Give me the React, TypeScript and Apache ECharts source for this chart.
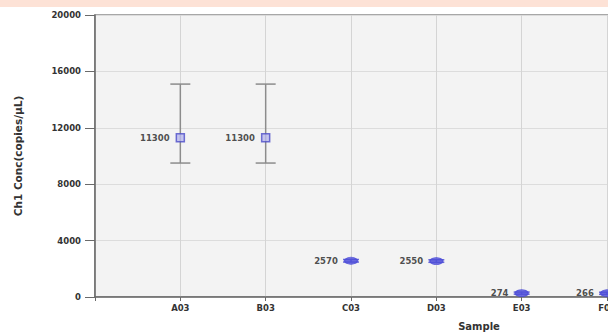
import React, { useEffect, useRef } from "react";
import * as echarts from "echarts";

const samples = ["A03", "B03", "C03", "D03", "E03", "F03"];
const conc = [11300, 11300, 2570, 2550, 274, 266];
const errLow = [9500, 9500, 2480, 2460, 200, 190];
const errHigh = [15100, 15100, 2660, 2640, 350, 340];
const yMin = 0;
const yMax = 20000;
const yStep = 4000;
const xMax = 9;

export default function App() {
  const ref = useRef<HTMLDivElement>(null);
  useEffect(() => {
    if (!ref.current) return;
    const chart = echarts.init(ref.current, null, { renderer: "svg" });
    const font = "DejaVu Sans, Verdana, sans-serif";
    chart.setOption({
      animation: false,
      graphic: [
        {
          type: "rect",
          left: 0,
          top: 0,
          shape: { width: 900, height: 7 },
          style: { fill: "#fde2d6" },
          silent: true,
        },
      ],
      grid: {
        left: 95,
        top: 15,
        bottom: 36,
        right: 20,
        outerBoundsMode: "none",
        containLabel: false,
        show: true,
        backgroundColor: "#f3f3f3",
        borderColor: "#8a8a8a",
        borderWidth: 1.5,
      },
      xAxis: {
        type: "value",
        min: 0,
        max: xMax,
        interval: 1,
        name: "Sample",
        nameLocation: "middle",
        nameGap: 24,
        nameTextStyle: { fontFamily: font, fontSize: 10, fontWeight: "bold", color: "#333" },
        axisLine: { show: true, lineStyle: { color: "#6a6a6a", width: 1.5 } },
        axisTick: { show: true, length: 4, lineStyle: { color: "#6a6a6a" } },
        axisLabel: {
          fontFamily: font,
          fontSize: 8.5,
          fontWeight: "bold",
          color: "#333",
          margin: 6,
          formatter: (v: number) => samples[v - 1] ?? "",
        },
        splitLine: { show: true, lineStyle: { color: "#d4d4d4", width: 1 } },
      },
      yAxis: {
        type: "value",
        min: yMin,
        max: yMax,
        interval: yStep,
        name: "Ch1 Conc(copies/µL)",
        nameLocation: "middle",
        nameGap: 72,
        nameTextStyle: { fontFamily: font, fontSize: 10.5, fontWeight: "bold", color: "#333" },
        axisLine: { show: true, lineStyle: { color: "#6a6a6a", width: 1.5 } },
        axisTick: { show: true, length: 10, lineStyle: { color: "#6a6a6a" } },
        axisLabel: {
          fontFamily: font,
          fontSize: 8.5,
          fontWeight: "bold",
          color: "#333",
          margin: 14,
          formatter: (v: number) => String(v),
        },
        splitLine: { show: true, lineStyle: { color: "#dcdcdc", width: 1 } },
      },
      series: [
        {
          type: "custom",
          data: samples.map((s, i) => [i + 1, errLow[i], errHigh[i]]),
          renderItem: (params: any, api: any) => {
            const x = api.value(0);
            const lo = api.coord([x, api.value(1)]);
            const hi = api.coord([x, api.value(2)]);
            const small = Math.abs(lo[1] - hi[1]) < 10;
            const hw = small ? 8 : 10;
            const style = { stroke: small ? "#6a6ad8" : "#8c8c8c", lineWidth: 1.5 };
            return {
              type: "group",
              children: [
                { type: "line", shape: { x1: lo[0], y1: lo[1], x2: hi[0], y2: hi[1] }, style },
                { type: "line", shape: { x1: lo[0] - hw, y1: lo[1], x2: lo[0] + hw, y2: lo[1] }, style },
                { type: "line", shape: { x1: hi[0] - hw, y1: hi[1], x2: hi[0] + hw, y2: hi[1] }, style },
              ],
            };
          },
          z: 2,
        },
        {
          type: "scatter",
          symbol: "rect",
          symbolSize: 8,
          z: 3,
          itemStyle: { color: "#b8b8ee", borderColor: "#4c4cc8", borderWidth: 1.5 },
          label: {
            show: true,
            position: "left",
            distance: 6,
            fontFamily: font,
            fontSize: 8.5,
            fontWeight: "bold",
            color: "#222",
            formatter: (p: any) => String(p.value[1]),
          },
          data: samples.map((s, i) => {
            const small = errHigh[i] - errLow[i] < 1000;
            return {
              value: [i + 1, conc[i]],
              symbol: small ? "circle" : "rect",
              symbolSize: small ? [13, 7] : 8,
              itemStyle: small
                ? { color: "#4c4cd8", borderColor: "#4c4cd8", borderWidth: 1 }
                : undefined,
            };
          }),
        },
      ],
    });
    return () => chart.dispose();
  }, []);
  return (
    <div
      style={{
        position: "fixed",
        left: 0,
        top: 0,
        width: 608,
        height: 333,
        overflow: "hidden",
        background: "#fff",
      }}
    >
      <div ref={ref} style={{ width: 883, height: 333 }} />
    </div>
  );
}
